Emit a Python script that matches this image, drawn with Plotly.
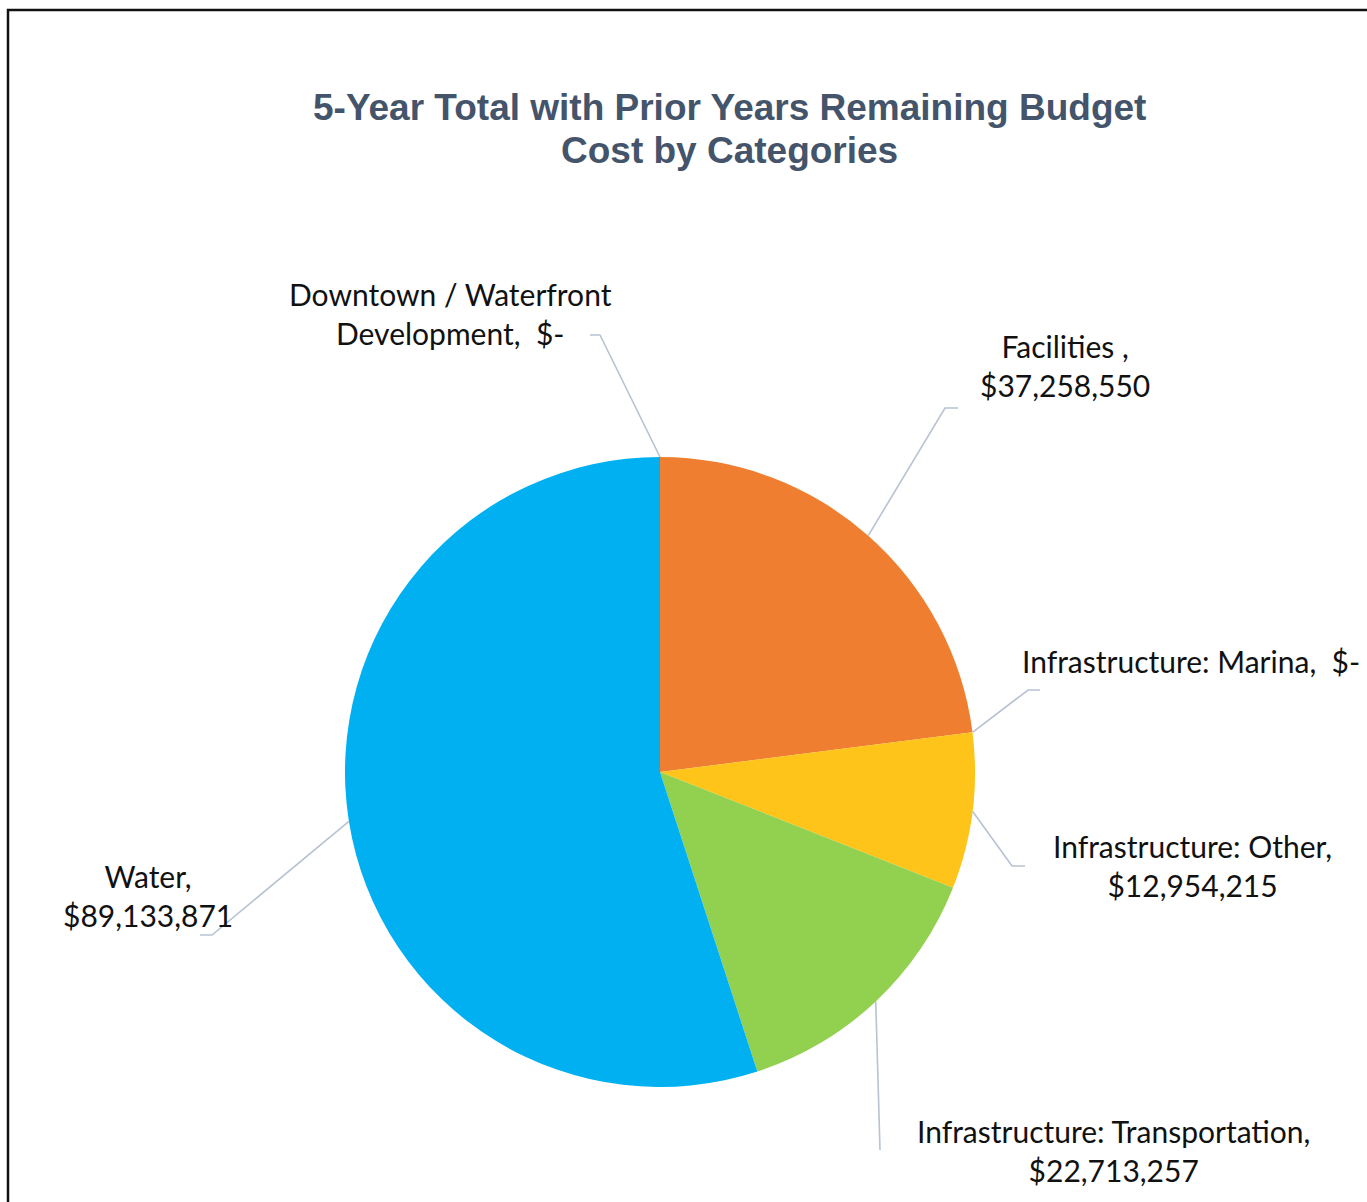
import math
import plotly.graph_objects as go

W, H = 1367, 1202

categories = ["Downtown / Waterfront Development", "Facilities", "Infrastructure: Marina",
              "Infrastructure: Other", "Infrastructure: Transportation", "Water"]
values = [0, 37258550, 0, 12954215, 22713257, 89133871]
label_texts = ["Downtown / Waterfront<br>Development,\u00a0 $-",
               "Facilities ,<br>$37,258,550",
               "Infrastructure: Marina,\u00a0 $-",
               "Infrastructure: Other,<br>$12,954,215",
               "Infrastructure: Transportation,<br>$22,713,257",
               "Water,<br>$89,133,871"]
title_lines = ["5-Year Total with Prior Years Remaining Budget", "Cost by Categories"]
colors = ["#A5A5A5", "#F07E30", "#7F7F7F", "#FFC419", "#92D050", "#00B0F0"]

# layout (pixel) settings
CX, CY, R = 660, 772, 315
label_pos = [(450, 313, "center"), (1065, 366, "center"), (1362, 661, "right"),
             (1192, 865, "center"), (1113, 1150, "center"), (148, 895, "center")]
elbows = [[(600, 335), (590, 335)], [(945, 408), (958, 408)], [(1028, 690), (1040, 690)],
          [(1012, 866), (1025, 866)], [(880, 1150)], [(212, 935), (200, 935)]]
title_pos = [(729, 107), (729, 150)]


def px(x):
    return x / W


def py(y):
    return 1 - y / H


fig = go.Figure(go.Pie(
    labels=categories, values=values, sort=False, direction="clockwise", rotation=0,
    marker=dict(colors=colors, line=dict(width=0)),
    textinfo="none", hoverinfo="none", showlegend=False,
    domain=dict(x=[px(CX - R), px(CX + R)], y=[py(CY + R), py(CY - R)]),
))

total = sum(values)
shapes = []
annotations = []
cum = 0.0
for i, v in enumerate(values):
    mid = (cum + v / 2) / total * 2 * math.pi
    cum += v
    ex = CX + R * math.sin(mid)
    ey = CY - R * math.cos(mid)
    pts = [(ex, ey)] + elbows[i]
    path = "M " + " L ".join(f"{px(a):.5f},{py(b):.5f}" for a, b in pts)
    shapes.append(dict(type="path", xref="paper", yref="paper", path=path,
                       line=dict(color="#B7C2D3", width=1.6)))
    lx, ly, anc = label_pos[i]
    annotations.append(dict(x=px(lx), y=py(ly), xref="paper", yref="paper",
                            text=label_texts[i], showarrow=False, xanchor=anc,
                            yanchor="middle", align="center",
                            font=dict(family="Lato", size=30, color="#111111")))

for t, (tx, ty) in zip(title_lines, title_pos):
    annotations.append(dict(x=px(tx), y=py(ty), xref="paper", yref="paper",
                            text=f"<b>{t}</b>", showarrow=False, xanchor="center",
                            yanchor="middle", align="center",
                            font=dict(family="Liberation Sans", size=37, color="#44546A")))

shapes.append(dict(type="rect", xref="paper", yref="paper", x0=px(8), x1=1.05,
                   y0=-0.05, y1=py(10), line=dict(color="#111111", width=2.5)))

fig.update_layout(width=W, height=H, margin=dict(l=0, r=0, t=0, b=0),
                  paper_bgcolor="white", plot_bgcolor="white",
                  shapes=shapes, annotations=annotations)
fig.write_html("out.html", config=dict(displayModeBar=False),
               post_script="document.body.style.margin='0';document.body.style.padding='0';")
